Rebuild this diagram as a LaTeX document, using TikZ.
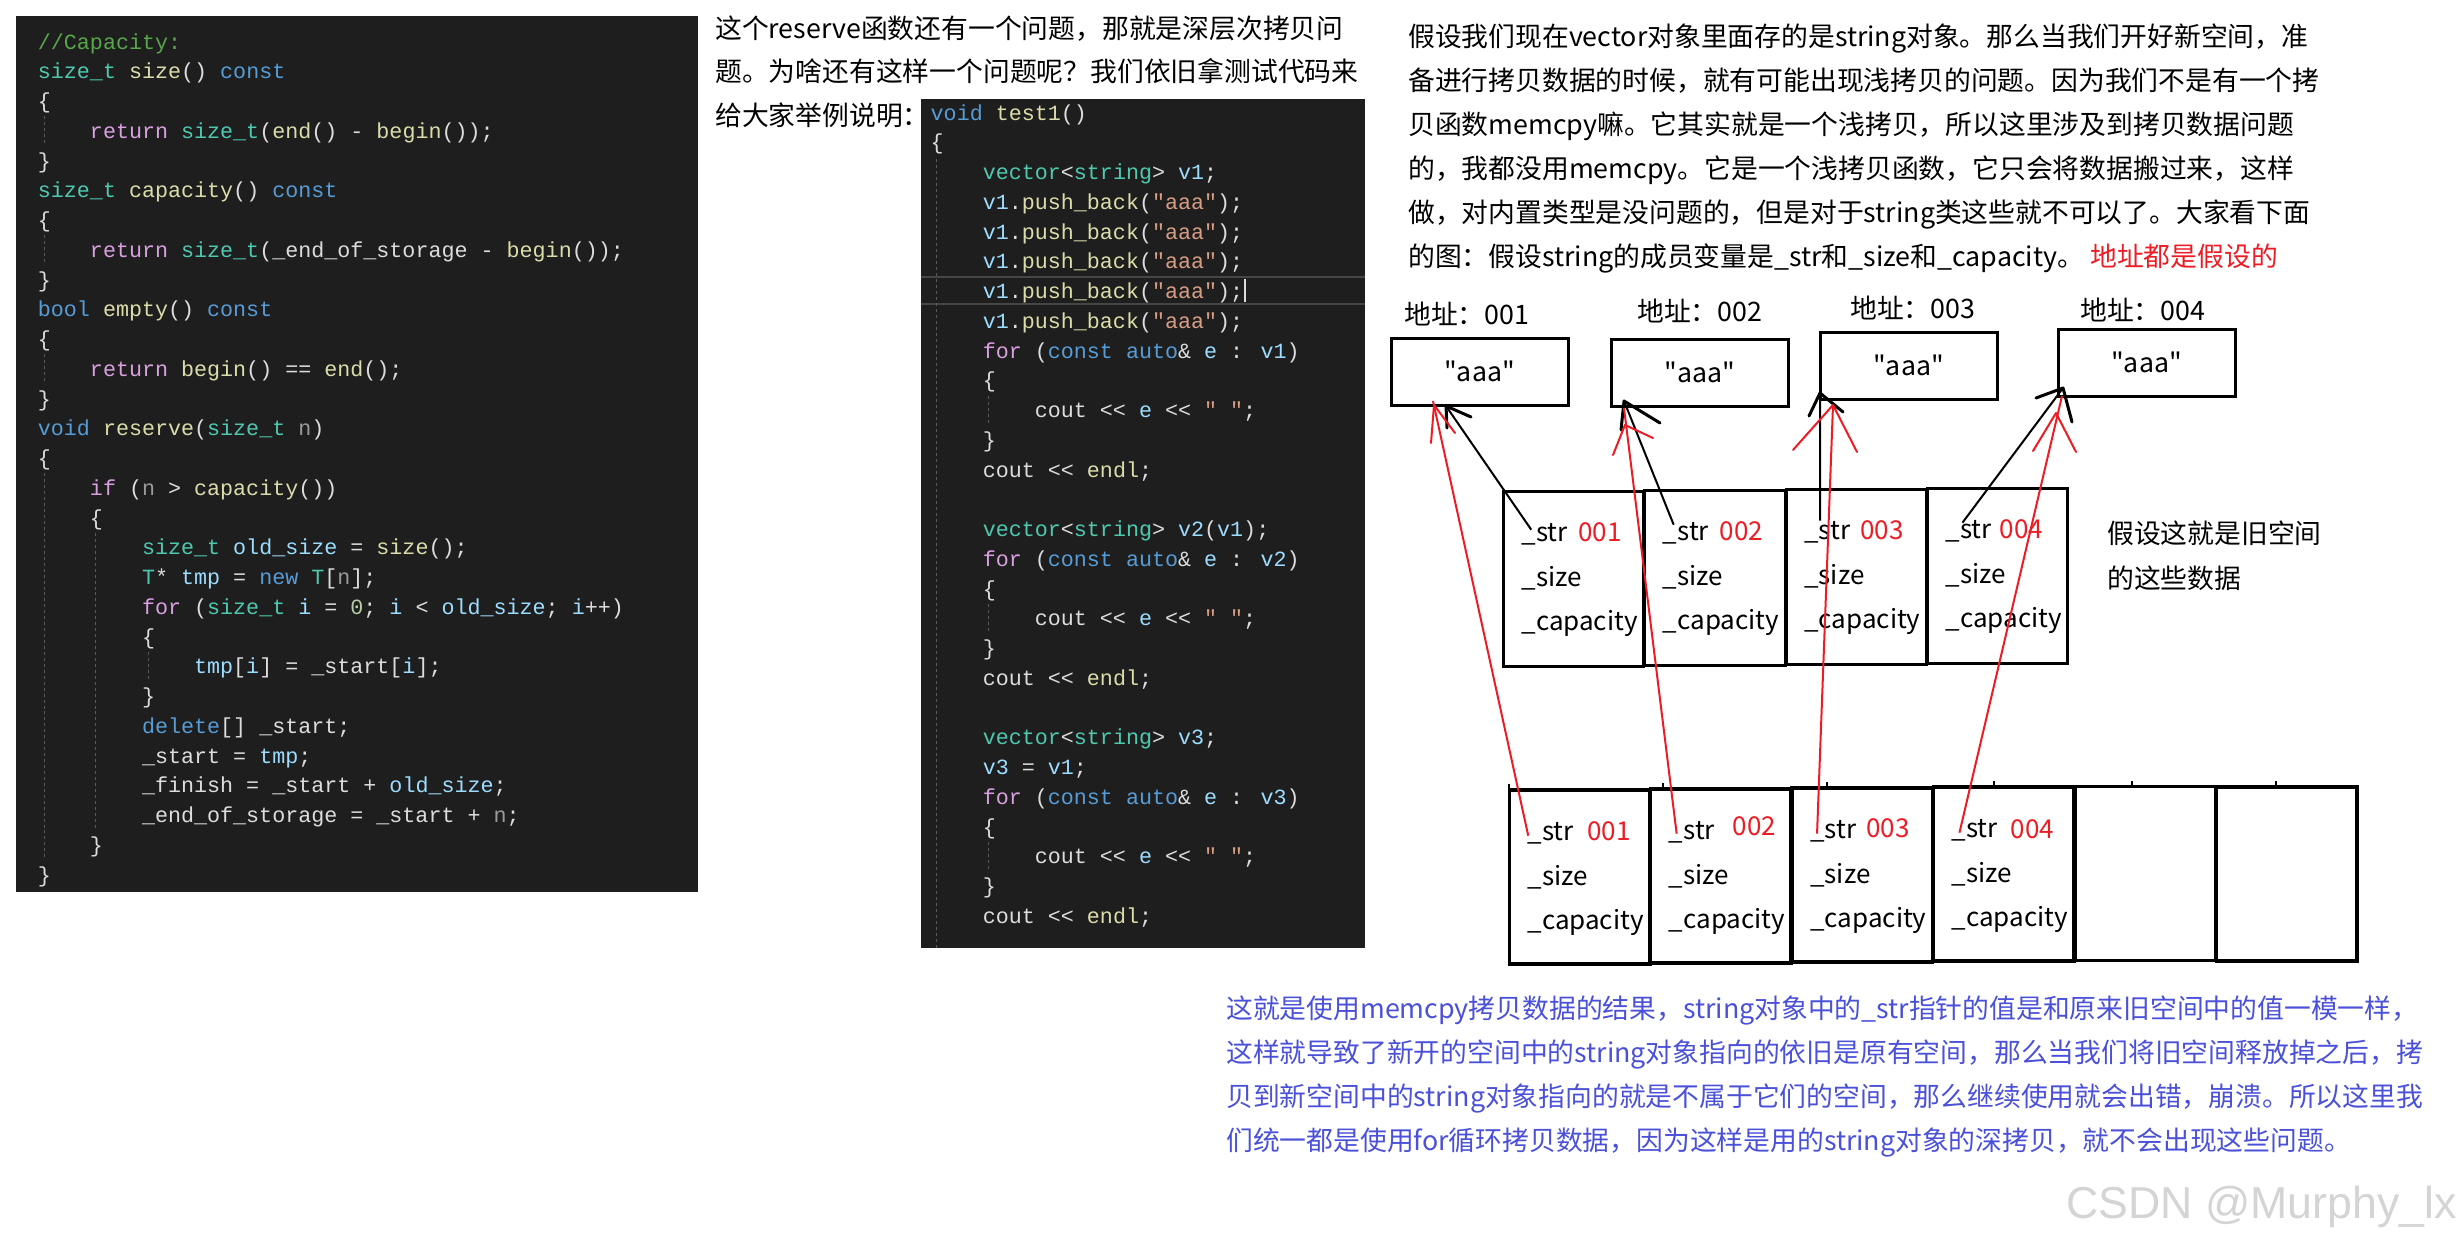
\documentclass[tikz,border=0pt]{standalone}
\usepackage{fontspec}
\setmainfont{Noto Sans CJK SC}
\newfontfamily\boxfont{Noto Sans CJK SC}
\newfontfamily\codefont{Liberation Mono}
\newfontfamily\markfont{Liberation Sans}
\definecolor{panelbg}{HTML}{1E1E1E}
\definecolor{guidecol}{HTML}{5A5A5A}
\definecolor{hilitecol}{HTML}{464646}
\definecolor{plaincol}{HTML}{DCDCDC}
\definecolor{kwcol}{HTML}{569CD6}
\definecolor{tycol}{HTML}{4EC9B0}
\definecolor{fncol}{HTML}{DCDCAA}
\definecolor{vrcol}{HTML}{9CDCFE}
\definecolor{flcol}{HTML}{D8A0DF}
\definecolor{pacol}{HTML}{9A9A9A}
\definecolor{cmcol}{HTML}{57A64A}
\definecolor{stcol}{HTML}{D69D85}
\definecolor{nucol}{HTML}{B5CEA8}
\definecolor{inkred}{HTML}{ED1C24}
\definecolor{noteblue}{HTML}{4A50D8}
\newcommand\ckw[1]{\textcolor{kwcol}{#1}}
\newcommand\cty[1]{\textcolor{tycol}{#1}}
\newcommand\cfn[1]{\textcolor{fncol}{#1}}
\newcommand\cvr[1]{\textcolor{vrcol}{#1}}
\newcommand\cfl[1]{\textcolor{flcol}{#1}}
\newcommand\cpa[1]{\textcolor{pacol}{#1}}
\newcommand\ccm[1]{\textcolor{cmcol}{#1}}
\newcommand\cst[1]{\textcolor{stcol}{#1}}
\newcommand\cnu[1]{\textcolor{nucol}{#1}}
\newcommand\pushline{\cvr{v1}.\cfn{push\_back}(\cst{"aaa"});}
\newcommand\forline[1]{\cfl{for} (\ckw{const} \ckw{auto}\& \cvr{e} : \cvr{#1})}
\newcommand\coutline{cout << \cvr{e} << \cst{" "};}
\newcommand\coutendl{cout << \cfn{endl};}
\tikzset{
codeline/.style={anchor=base west, inner sep=0pt, text=plaincol, font=\codefont\fontsize{21.7}{24}\selectfont},
prose/.style={anchor=base west, inner sep=0pt, font=\fontsize{26.8}{30}\selectfont}, % every chinese line
field/.style={anchor=base west, inner sep=0pt, font=\fontsize{26}{30}\selectfont}, % the member names in a slot
guide/.style={guidecol, line width=1pt, dash pattern=on 3pt off 3pt},
aaabox/.style={draw, line width=3pt, outer sep=0pt, inner sep=0pt, minimum width=177pt, minimum height=67pt, font=\boxfont\fontsize{26.7}{30}\selectfont},
slot/.style={draw, line width=3pt, outer sep=0pt, minimum width=140.5pt, minimum height=175pt},
newslot/.style={draw, line width=3.5pt, outer sep=0pt, minimum width=140.5pt, minimum height=174pt},
pointer/.style={black, line width=2pt},
barb/.style={black, line width=3pt, line cap=round, line join=round},
redpointer/.style={inkred, line width=2pt},
redbarb/.style={inkred, line width=2pt, line cap=round, line join=round},
node distance=141.4pt, % slots stand side by side
}
\begin{document}
\begin{tikzpicture}[x=1pt, y=-1pt]
\useasboundingbox (0,0) rectangle (2461,1242);
% left code panel
\fill[panelbg] (16,16) rectangle (698,892);
\foreach \x/\ln in {44/3, 44/7, 44/11, 44/15, 44/16, 44/17, 44/18, 44/19, 44/20, 44/21, 44/22, 44/23, 44/24, 44/25, 44/26, 44/27,
95/17, 95/18, 95/19, 95/20, 95/21, 95/22, 95/23, 95/24, 95/25, 95/26, 148/21}
\draw[guide] (\x,{42+29.75*\ln-15}) -- (\x,{42+29.75*\ln+15});
\foreach \ln/\ind/\txt in {
0/0/{\ccm{//Capacity:}},
1/0/{\cty{size\_t} \cfn{size}() \ckw{const}},
2/0/{\{},
3/4/{\cfl{return} \cty{size\_t}(\cfn{end}() - \cfn{begin}());},
4/0/{\}},
5/0/{\cty{size\_t} \cfn{capacity}() \ckw{const}},
6/0/{\{},
7/4/{\cfl{return} \cty{size\_t}(\_end\_of\_storage - \cfn{begin}());},
8/0/{\}},
9/0/{\ckw{bool} \cfn{empty}() \ckw{const}},
10/0/{\{},
11/4/{\cfl{return} \cfn{begin}() == \cfn{end}();},
12/0/{\}},
13/0/{\ckw{void} \cfn{reserve}(\cty{size\_t} \cpa{n})},
14/0/{\{},
15/4/{\cfl{if} (\cpa{n} > \cfn{capacity}())},
16/4/{\{},
17/8/{\cty{size\_t} \cvr{old\_size} = \cfn{size}();},
18/8/{\cty{T}* \cvr{tmp} = \ckw{new} \cty{T}[\cpa{n}];},
19/8/{\cfl{for} (\cty{size\_t} \cvr{i} = \cnu{0}; \cvr{i} < \cvr{old\_size}; \cvr{i}++)},
20/8/{\{},
21/12/{\cvr{tmp}[\cvr{i}] = \_start[\cvr{i}];},
22/8/{\}},
23/8/{\ckw{delete}[] \_start;},
24/8/{\_start = \cvr{tmp};},
25/8/{\_finish = \_start + \cvr{old\_size};},
26/8/{\_end\_of\_storage = \_start + \cpa{n};},
27/4/{\}},
28/0/{\}}}
\node[codeline] (leftcode\ln) at ({37.7+13.02*\ind},{49+29.75*\ln}) {\txt};
% test code panel
\fill[panelbg] (921,99) rectangle (1365,948);
\draw[hilitecol, line width=2.5pt] (921,277) -- (1365,277) (921,304) -- (1365,304);
\draw[guide] (936,159) -- (936,948);
\foreach \ln in {10,17,25}
\draw[guide] (988,{113+29.75*\ln-15}) -- (988,{113+29.75*\ln+15});
\foreach \ln/\ind/\txt in {
0/0/{\ckw{void} \cfn{test1}()},
1/0/{\{},
2/4/{\cty{vector}<\cty{string}> \cvr{v1};},
3/4/{\pushline},
4/4/{\pushline},
5/4/{\pushline},
6/4/{\pushline},
7/4/{\pushline},
8/4/{\forline{v1}},
9/4/{\{},
10/8/{\coutline},
11/4/{\}},
12/4/{\coutendl},
14/4/{\cty{vector}<\cty{string}> \cvr{v2}(\cvr{v1});},
15/4/{\forline{v2}},
16/4/{\{},
17/8/{\coutline},
18/4/{\}},
19/4/{\coutendl},
21/4/{\cty{vector}<\cty{string}> \cvr{v3};},
22/4/{\cvr{v3} = \cvr{v1};},
23/4/{\forline{v3}},
24/4/{\{},
25/8/{\coutline},
26/4/{\}},
27/4/{\coutendl}}
\node[codeline] (testcode\ln) at ({930.5+13.02*\ind},{120+29.75*\ln}) {\txt};
\draw[plaincol, line width=2pt] (1245,279) -- (1245,302);
% prose above the test code
\foreach \i/\y/\txt in {
1/38/{这个reserve函数还有一个问题，那就是深层次拷贝问},
2/81/{题。为啥还有这样一个问题呢？我们依旧拿测试代码来},
3/125/{给大家举例说明：}}
\node[prose] (intro\i) at (715,\y) {\txt};
% prose on the right
\foreach \i/\y/\txt in {
1/46/{假设我们现在vector对象里面存的是string对象。那么当我们开好新空间，准},
2/90/{备进行拷贝数据的时候，就有可能出现浅拷贝的问题。因为我们不是有一个拷},
3/134/{贝函数memcpy嘛。它其实就是一个浅拷贝，所以这里涉及到拷贝数据问题},
4/178/{的，我都没用memcpy。它是一个浅拷贝函数，它只会将数据搬过来，这样},
5/222/{做，对内置类型是没问题的，但是对于string类这些就不可以了。大家看下面},
6/266/{的图：假设string的成员变量是\_str和\_size和\_capacity。}}
\node[prose] (desc\i) at (1408,\y) {\txt};
\node[prose, text=inkred] (fakenote) at (2090,266) {地址都是假设的};
% the strings
\node[aaabox] (aaa1) at (1479.5,371.5) {"aaa"};
\node[aaabox] (aaa2) at (1700,372.5) {"aaa"};
\node[aaabox] (aaa3) at (1908.5,365.5) {"aaa"};
\node[aaabox] (aaa4) at (2146.5,362.5) {"aaa"};
\node[prose] (addr1) at (1404,324) {地址：001};
\node[prose] (addr2) at (1637,321) {地址：002};
\node[prose] (addr3) at (1850,318) {地址：003};
\node[prose] (addr4) at (2080,320) {地址：004};
% old space
\node[slot] (old1) at (1573.5,578.5) {};
\node[slot, right of=old1, yshift=1pt] (old2) {};
\node[slot, right of=old2, yshift=1pt] (old3) {};
\node[slot, right of=old3, yshift=1pt] (old4) {};
\foreach \i/\nx in {1/75, 2/75, 3/74, 4/72} {
\node[field] (oldstr\i) at ([shift={(18,50)}]old\i.north west) {\_str};
\node[field] (oldsize\i) at ([shift={(18,95)}]old\i.north west) {\_size};
\node[field] (oldcap\i) at ([shift={(18,139)}]old\i.north west) {\_capacity};
\node[field, text=inkred] (oldnum\i) at ([shift={(\nx,50)}]old\i.north west) {00\i};
}
\node[prose] (oldnote1) at (2107,543) {假设这就是旧空间};
\node[prose] (oldnote2) at (2107,588) {的这些数据};
% new space
\node[newslot] (new1) at (1579.5,877) {};
\node[newslot, right of=new1, yshift=1pt] (new2) {};
\node[newslot, right of=new2, yshift=1pt] (new3) {};
\node[newslot, right of=new3, yshift=1pt] (new4) {};
\node[newslot, right of=new4, yshift=0.5pt] (new5) {};
\node[newslot, right of=new5, yshift=-0.5pt] (new6) {};
\foreach \x/\y in {1509/788, 1663/787, 1827/786, 1994/785, 2132/785, 2276/785}
\draw[line width=1.5pt] (\x,\y) -- (\x,{\y-4});
\foreach \i/\nx/\ny in {1/78/50, 2/82/46, 3/74/49, 4/77/51} {
\node[field] (newstr\i) at ([shift={(18,50)}]new\i.north west) {\_str};
\node[field] (newsize\i) at ([shift={(18,95)}]new\i.north west) {\_size};
\node[field] (newcap\i) at ([shift={(18,139)}]new\i.north west) {\_capacity};
\node[field, text=inkred] (newnum\i) at ([shift={(\nx,\ny)}]new\i.north west) {00\i};
}
% old pointers, heads drawn by hand
\foreach \i/\dx/\dy/\tx/\ty/\ax/\ay/\bx/\by in {
1/10/7/1446/406/1447/428/1471/417,
2/11/3/1624/401/1621/430/1660/423,
3/16/0/1820/393/1809/416/1843/412,
4/17/3/2063/388/2036/398/2072/422} {
\coordinate (blacktip\i) at (\tx,\ty);
\coordinate (blackl\i) at (\ax,\ay);
\coordinate (blackr\i) at (\bx,\by);
\draw[pointer] ([shift={(\dx,\dy)}]oldstr\i.north west) -- (blacktip\i);
\draw[barb] (blackl\i) -- (blacktip\i) -- (blackr\i);
}
% copied pointers
\foreach \i/\dx/\dy/\tx/\ty/\mx/\my/\ax/\ay/\bx/\by in {
1/1/14/1433/401/1434/405/1431/443/1455/433,
2/8/13/1624/408/1625/425/1613/455/1653/438,
3/7/14/1833/405/1833/405/1793/450/1857/452,
4/8/14/2062/396/2056/413/2033/451/2076/452} {
\coordinate (redtip\i) at (\tx,\ty);
\coordinate (redmid\i) at (\mx,\my);
\coordinate (redl\i) at (\ax,\ay);
\coordinate (redr\i) at (\bx,\by);
\draw[redpointer] ([shift={(\dx,\dy)}]newstr\i.north west) -- (redtip\i);
\draw[redbarb] (redl\i) -- (redmid\i) -- (redr\i);
}
% prose below
\foreach \i/\y/\txt in {
1/1018/{这就是使用memcpy拷贝数据的结果，string对象中的\_str指针的值是和原来旧空间中的值一模一样，},
2/1062/{这样就导致了新开的空间中的string对象指向的依旧是原有空间，那么当我们将旧空间释放掉之后，拷},
3/1106/{贝到新空间中的string对象指向的就是不属于它们的空间，那么继续使用就会出错，崩溃。所以这里我},
4/1150/{们统一都是使用for循环拷贝数据，因为这样是用的string对象的深拷贝，就不会出现这些问题。}}
\node[prose, text=noteblue] (result\i) at (1226,\y) {\txt};
\node[anchor=base east, inner sep=0pt, text=black!17, font=\markfont\fontsize{44.7}{50}\selectfont] (watermark) at (2457,1218) {CSDN @Murphy\_lx};
\end{tikzpicture}
\end{document}
